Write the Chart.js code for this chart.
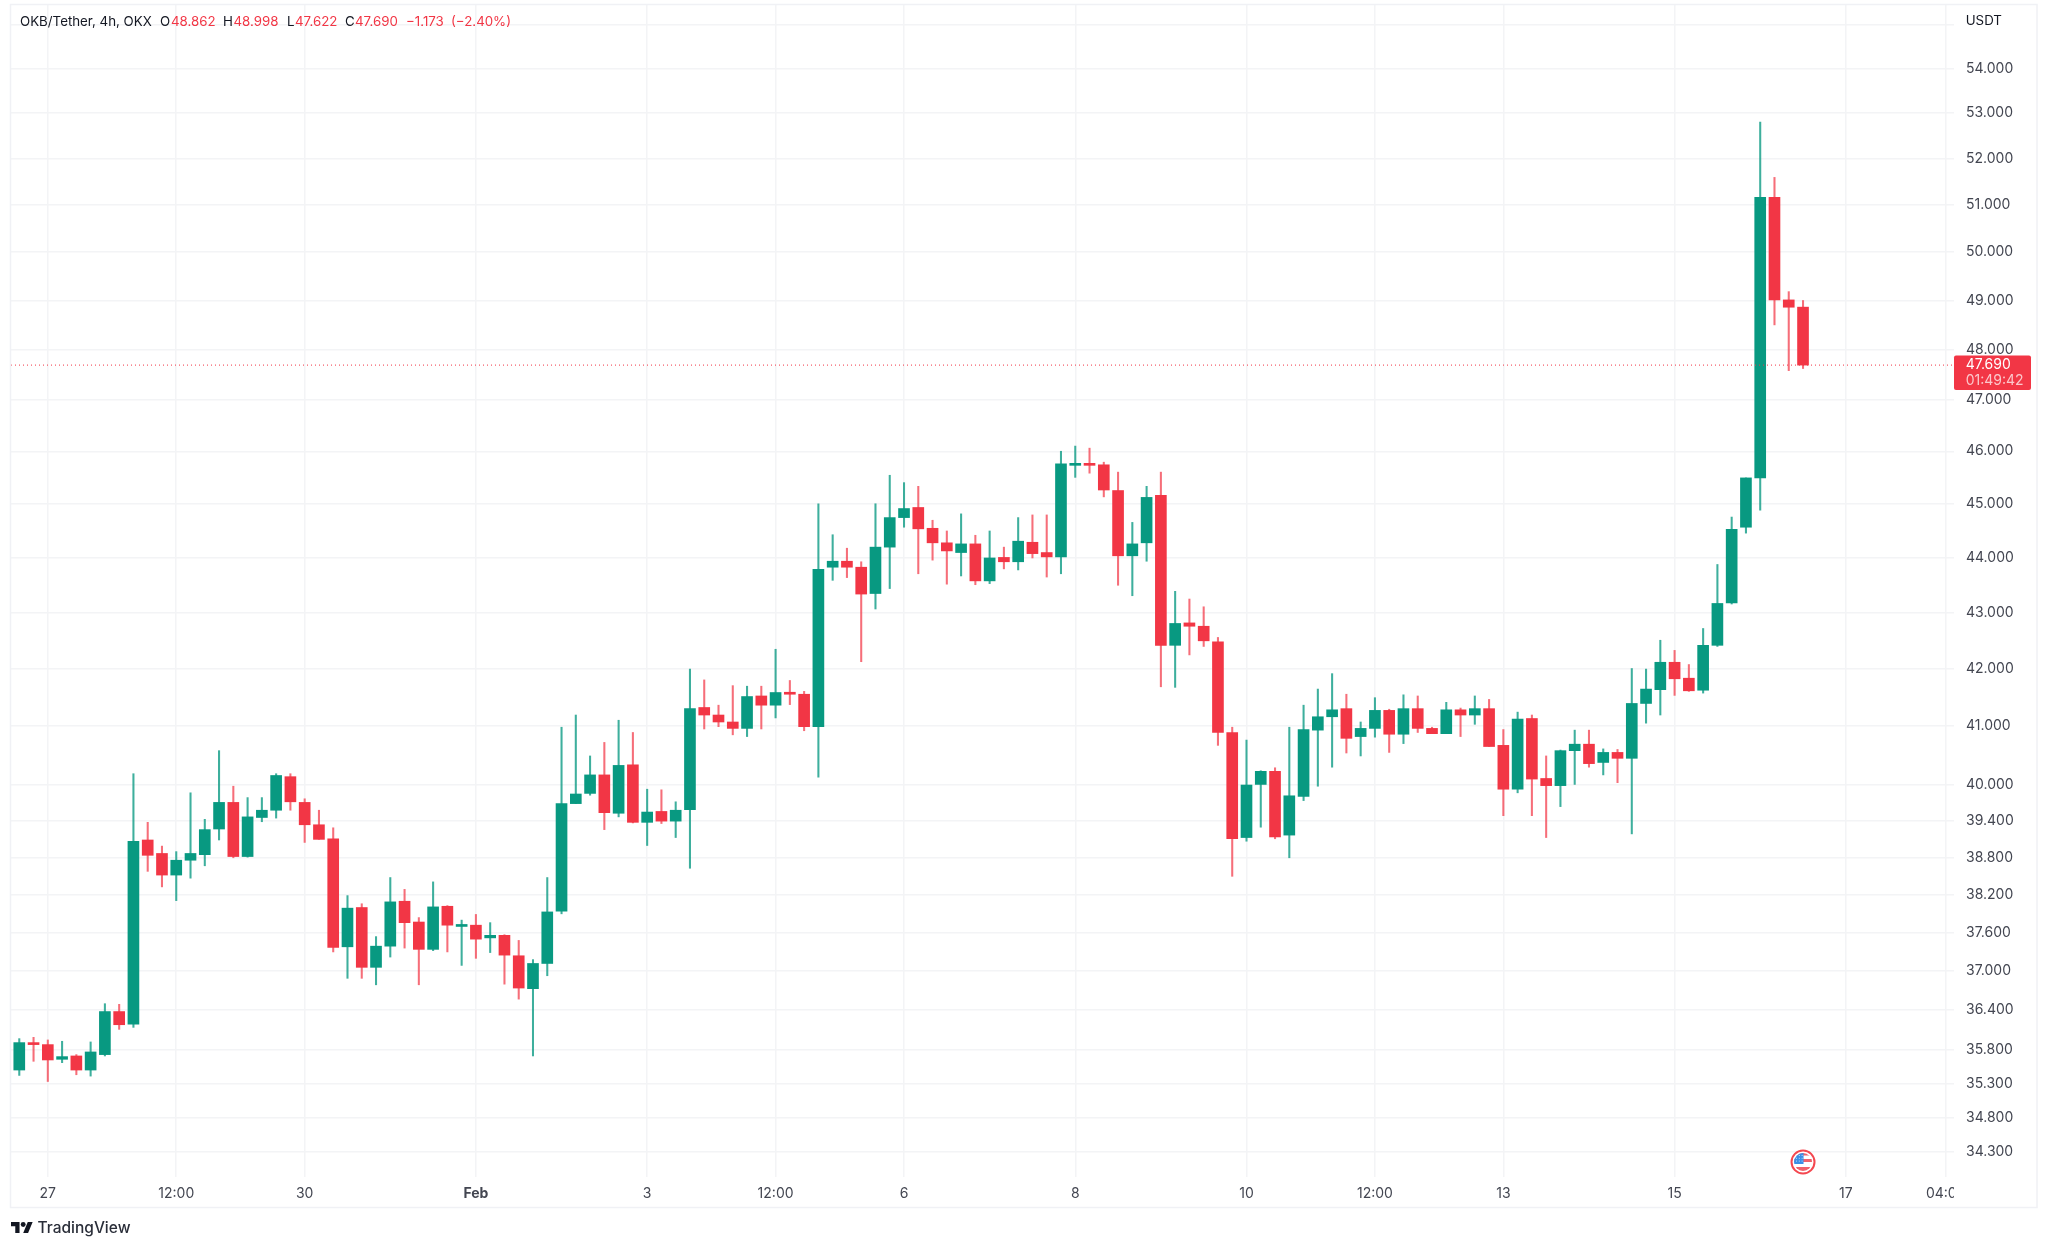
<!DOCTYPE html>
<html><head><meta charset="utf-8">
<style>html,body{margin:0;padding:0;background:#fff}canvas{display:block}</style>
<script src="https://cdn.jsdelivr.net/npm/chart.js@4"></script>
</head><body><canvas id="c" width="2048" height="1247"></canvas>
<script>
const opens=[35.50,35.90,35.88,35.66,35.71,35.50,35.73,36.38,36.19,39.09,38.87,38.52,38.76,38.85,39.27,39.71,38.82,39.46,39.58,40.14,39.71,39.34,39.11,37.38,38.00,37.06,37.39,38.10,37.77,37.34,38.02,37.70,37.72,37.52,37.56,37.24,36.73,37.12,37.94,39.69,39.86,40.17,39.53,40.34,39.38,39.56,39.40,39.59,41.32,41.19,41.07,40.96,41.52,41.36,41.57,41.55,40.99,43.82,43.93,43.82,43.34,44.19,44.74,44.93,44.54,44.27,44.09,44.25,43.57,44.00,43.92,44.28,44.09,44.01,45.73,45.74,45.74,45.25,44.03,44.27,45.16,42.41,42.81,42.75,42.47,40.89,39.13,40.01,40.23,39.17,39.81,40.93,41.16,41.30,40.82,40.96,41.27,40.86,41.30,40.96,40.87,41.28,41.19,41.30,40.67,39.93,41.13,40.11,39.99,40.58,40.69,40.38,40.55,40.45,41.39,41.63,42.11,41.83,41.62,42.41,43.17,44.56,45.49,51.16,49.01,48.862];
const highs=[35.97,35.99,35.95,35.93,35.73,35.92,36.50,36.49,40.19,39.38,38.99,38.90,39.87,39.43,40.58,39.98,39.79,39.79,40.19,40.19,39.77,39.58,39.29,38.19,38.06,37.54,38.48,38.29,37.84,38.41,38.03,37.80,37.89,37.76,37.57,37.48,37.18,38.48,40.98,41.19,40.49,40.72,41.10,40.89,39.93,39.92,39.72,41.99,41.80,41.36,41.70,41.69,41.69,42.34,41.79,41.60,45.00,44.42,44.17,43.92,45.00,45.54,45.40,45.33,44.69,44.49,44.81,44.41,44.49,44.19,44.74,44.79,44.79,46.00,46.10,46.06,45.79,45.60,44.65,45.33,45.60,43.38,43.24,43.10,42.55,40.98,40.76,40.24,40.29,40.98,41.36,41.64,41.91,41.55,41.07,41.49,41.29,41.54,41.52,40.98,41.41,41.31,41.52,41.46,40.94,41.24,41.19,40.49,40.59,40.93,40.93,40.61,40.60,42.00,41.99,42.50,42.32,42.07,42.71,43.87,44.75,45.49,52.80,51.59,49.18,48.998];
const lows=[35.42,35.63,35.33,35.61,35.43,35.41,35.71,36.11,36.14,38.58,38.33,38.11,38.47,38.67,39.09,38.80,38.81,39.39,39.45,39.58,39.05,39.10,37.30,36.89,36.89,36.79,37.22,37.36,36.79,37.32,37.30,37.09,37.20,37.29,36.80,36.57,35.71,36.93,37.90,39.69,39.83,39.26,39.47,39.37,39.00,39.36,39.13,38.63,40.95,40.99,40.85,40.82,40.95,41.14,41.37,40.92,40.13,43.58,43.63,42.12,43.06,43.43,44.56,43.70,43.95,43.51,43.66,43.50,43.52,43.79,43.77,43.99,43.64,43.70,45.50,45.58,45.13,43.49,43.30,43.93,41.68,41.67,42.24,42.39,40.67,38.50,39.07,39.30,39.11,38.80,39.74,39.98,40.30,40.54,40.49,40.81,40.55,40.70,40.89,40.87,40.87,40.82,41.03,40.65,39.49,39.87,39.49,39.13,39.64,40.01,40.30,40.17,40.04,39.19,41.05,41.19,41.53,41.60,41.57,42.39,43.15,44.45,44.88,48.50,47.58,47.622];
const closes=[35.91,35.88,35.65,35.70,35.50,35.77,36.38,36.18,39.07,38.84,38.52,38.76,38.87,39.26,39.71,38.82,39.47,39.58,40.16,39.72,39.34,39.10,37.37,37.99,37.06,37.39,38.09,37.76,37.34,38.01,37.72,37.72,37.50,37.56,37.25,36.74,37.12,37.93,39.69,39.85,40.17,39.54,40.33,39.38,39.55,39.40,39.58,41.30,41.19,41.07,40.96,41.51,41.36,41.58,41.55,40.99,43.78,43.93,43.82,43.33,44.19,44.74,44.91,44.53,44.27,44.12,44.25,43.57,43.99,43.92,44.30,44.07,44.01,45.76,45.74,45.73,45.26,44.03,44.25,45.12,42.41,42.80,42.75,42.49,40.89,39.11,40.00,40.23,39.14,39.82,40.94,41.16,41.28,40.79,40.96,41.27,40.86,41.30,40.96,40.87,41.28,41.19,41.30,40.65,39.93,41.12,40.10,39.99,40.58,40.69,40.36,40.55,40.45,41.39,41.64,42.11,41.82,41.61,42.41,43.16,44.52,45.49,51.16,49.01,48.86,47.690];
const priceTicks=[55,54,53,52,51,50,49,48,47,46,45,44,43,42,41,40,39.4,38.8,38.2,37.6,37,36.4,35.8,35.3,34.8,34.3];
const timeTickIndex=[2,11,20,32,44,53,62,74,86,95,104,116,128,135];
const timeTickLabels=["27","12:00","30","Feb","3","12:00","6","8","10","12:00","13","15","17","04:00"];
const lastPrice=47.690;
const xBounds=[-0.58,135.58];
const yBounds=[33.945,55.452];

const GREEN='#089981', RED='#f23645', FONT='Inter, "Noto Sans", sans-serif';
const isUp=i=>closes[i]>=opens[i];
const col=ctx=>isUp(ctx.dataIndex)?GREEN:RED;
const wickCol=ctx=>isUp(ctx.dataIndex)?'rgba(8,153,129,0.78)':'rgba(242,54,69,0.72)';

const decor={id:'decor',afterDraw(chart){
  const c=chart.ctx,x=chart.scales.x,y=chart.scales.y;
  c.save();
  c.fillStyle='#fff';c.fillRect(1954,1180,40,26);
  c.strokeStyle='#f0f1f5';c.lineWidth=1.5;c.strokeRect(10.5,4.5,2026.5,1203);
  c.textBaseline='middle';c.textAlign='left';
  c.font='13.3px '+FONT;c.fillStyle='#131722';c.fillText('USDT',1965.7,21);
  const seg=[['OKB/Tether, 4h, OKX',20,'#131722'],['O',160,'#131722'],['48.862',171,RED],['H',223,'#131722'],['48.998',233.5,RED],['L',287,'#131722'],['47.622',295,RED],['C',345,'#131722'],['47.690',355,RED],['\u22121.173',406,RED],['(\u22122.40%)',451,RED]];
  seg.forEach(s=>{c.fillStyle=s[2];c.fillText(s[0],s[1],22);});
  const py=y.getPixelForValue(lastPrice);
  c.fillStyle=RED;c.beginPath();c.roundRect(1954,py-9.5,77,34.5,2);c.fill();
  c.fillStyle='#fff';c.font='14px '+FONT;c.fillText('47.690',1965.7,py);
  c.fillStyle='rgba(255,255,255,0.72)';c.fillText('01:49:42',1965.7,py+15.5);
  const fx=x.getPixelForValue(125),fy=1162;
  c.beginPath();c.arc(fx,fy,11.5,0,Math.PI*2);c.fillStyle='#fff';c.fill();c.lineWidth=2;c.strokeStyle='#f4474f';c.stroke();
  c.save();c.beginPath();c.arc(fx,fy,9,0,Math.PI*2);c.clip();
  c.fillStyle='#fff';c.fillRect(fx-10,fy-10,20,20);
  c.fillStyle='#f0616a';c.fillRect(fx-10,fy-9,20,2.5);c.fillRect(fx-10,fy-3,20,3);c.fillRect(fx-10,fy+5,20,4);
  c.fillStyle='#3a8fe6';c.fillRect(fx-10,fy-9,10.5,11);
  c.fillStyle='rgba(255,255,255,0.65)';
  for(let a=0;a<3;a++)for(let b=0;b<3;b++)c.fillRect(fx-7+a*2.8,fy-7+b*2.8,1,1);
  c.restore();
  c.save();c.translate(11,1219.6);c.scale(0.61,0.61);c.fillStyle='#131722';
  c.fill(new Path2D('M14 22H7V11H0V4h14v18zM28 22h-8l7.5-18h8L28 22z'));
  c.beginPath();c.arc(20,8,4,0,Math.PI*2);c.fill();c.restore();
  c.fillStyle='#2a2e39';c.font='500 15.5px '+FONT;c.fillText('TradingView',37.5,1228);
  c.restore();
}};

new Chart(document.getElementById('c'),{
  data:{datasets:[
    {type:'line',data:xBounds.map(v=>({x:v,y:lastPrice})),borderColor:RED,borderWidth:1,borderDash:[1,3],pointRadius:0,order:0},
    {type:'bar',data:opens.map((o,i)=>({x:i,y:[o,closes[i]]})),backgroundColor:col,barThickness:11,order:1,grouped:false,minBarLength:2},
    {type:'bar',data:lows.map((l,i)=>({x:i,y:[l,highs[i]]})),backgroundColor:wickCol,barThickness:1.4,order:2,grouped:false}
  ]},
  options:{
    responsive:false,animation:false,devicePixelRatio:1,
    layout:{padding:{left:11,top:5,right:0,bottom:0}},
    plugins:{legend:{display:false},tooltip:{enabled:false}},
    scales:{
      x:{type:'linear',min:xBounds[0],max:xBounds[1],offset:false,
        grid:{offset:false,color:'#f3f4f6',lineWidth:1.5,drawTicks:false},border:{display:false},
        afterBuildTicks:s=>{s.ticks=timeTickIndex.map(v=>({value:v}));},
        afterFit:s=>{s.height=70;s.paddingLeft=0;s.paddingRight=0;},
        ticks:{autoSkip:false,maxRotation:0,padding:8,color:'#434651',
          font:ctx=>({family:FONT,size:14,weight:ctx.tick&&ctx.tick.value===32?'700':'400'}),
          callback:v=>timeTickLabels[timeTickIndex.indexOf(v)]}},
      y:{type:'logarithmic',position:'right',min:yBounds[0],max:yBounds[1],
        grid:{color:'#f3f4f6',lineWidth:1.5,drawTicks:false},border:{display:false},
        afterBuildTicks:s=>{s.ticks=priceTicks.map(v=>({value:v}));},
        afterFit:s=>{s.width=94;s.paddingTop=0;s.paddingBottom=0;},
        ticks:{autoSkip:false,padding:12,color:'#434651',font:{family:FONT,size:14},
          callback:v=>v===55?'':Number(v).toFixed(3)}}
    }
  },
  plugins:[decor]
});
</script></body></html>
